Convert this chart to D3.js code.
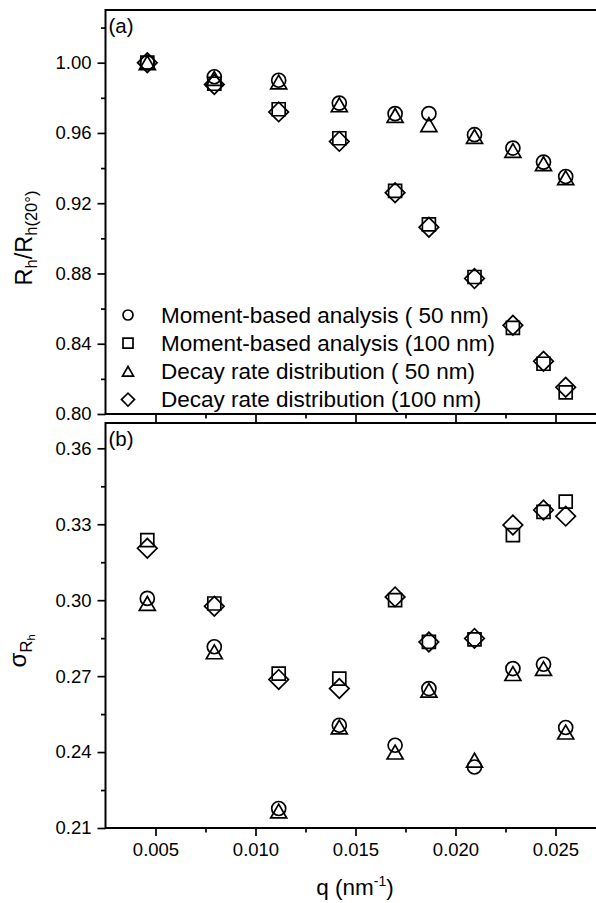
<!DOCTYPE html>
<html>
<head>
<meta charset="utf-8">
<script src="https://cdn.jsdelivr.net/npm/d3@7/dist/d3.min.js"></script>
<style>
    body { margin: 0; background: #fff; }
    svg { display: block; font-family: "Liberation Sans", Arial, sans-serif; }
    .axis text { font-size: 18.5px; fill: #000; }
    .axis line { stroke: #000; stroke-width: 1.7px; }
    .axis .domain { display: none; }
    .mark { fill: none; stroke: #000; stroke-width: 1.7px; }
</style>
</head>
<body>
<div id="chart"></div>
<script>
//Datos
const q = [0.00459, 0.00794, 0.01116, 0.01419, 0.01698, 0.01867, 0.02095, 0.02287, 0.0244, 0.02551];

//Panel (a): Rh / Rh(20º)
const rhMoment50  = [1.000, 0.992, 0.990, 0.977, 0.971, 0.971, 0.959, 0.9514, 0.9434, 0.9352];
const rhMoment100 = [1.000, 0.988, 0.9735, 0.957, 0.927, 0.908, 0.878, 0.849, 0.8286, 0.8123];
const rhDecay50   = [1.000, 0.991, 0.989, 0.976, 0.970, 0.9647, 0.958, 0.950, 0.9425, 0.9345];
const rhDecay100  = [1.000, 0.9876, 0.972, 0.9552, 0.926, 0.9063, 0.8771, 0.8505, 0.830, 0.8152];

//Panel (b): sigma Rh
const sdMoment50  = [0.3007, 0.2816, 0.2177, 0.2506, 0.2427, 0.2651, 0.2341, 0.273, 0.2747, 0.2497];
const sdMoment100 = [0.3237, 0.2987, 0.271, 0.269, 0.300, 0.2835, 0.2845, 0.3257, 0.3349, 0.3389];
const sdDecay50   = [0.2987, 0.2796, 0.2167, 0.2499, 0.240, 0.2644, 0.2368, 0.271, 0.273, 0.2479];
const sdDecay100  = [0.3205, 0.2976, 0.2687, 0.2651, 0.3013, 0.2835, 0.2849, 0.3297, 0.3356, 0.3332];

const legendLabels = ['Moment-based analysis ( 50 nm)', 'Moment-based analysis (100 nm)', 'Decay rate distribution ( 50 nm)', 'Decay rate distribution (100 nm)'];

//Ticks
const xTicks = [0.005, 0.010, 0.015, 0.020, 0.025];
const xMinor = [0.0075, 0.0125, 0.0175, 0.0225];
const aTicks = [0.80, 0.84, 0.88, 0.92, 0.96, 1.00];
const aMinor = [0.82, 0.86, 0.90, 0.94, 0.98, 1.02];
const bTicks = [0.21, 0.24, 0.27, 0.30, 0.33, 0.36];
const bMinor = [0.225, 0.255, 0.285, 0.315, 0.345];

let width = 596, height = 903;
let left = 105.5, right = 595.5;

let svg = d3.select('#chart')
    .append('svg')
    .attr('width', width)
    .attr('height', height);

let x = d3.scaleLinear()
    .domain([0.0025, 0.027])
    .range([left, right]);

let yA = d3.scaleLinear().domain([0.80, 1.03]).range([414, 10]);
let yB = d3.scaleLinear().domain([0.21, 0.37]).range([828, 423]);

//Simbolos (circulo, cuadrado, triangulo, rombo)
let shapes = [
    { type: d3.symbolCircle, size: Math.PI * 7 * 7, rot: 0, dy: 0 },
    { type: d3.symbolSquare, size: 13 * 13, rot: 0, dy: 0 },
    { type: d3.symbolTriangle, size: Math.sqrt(3) / 4 * 16 * 16, rot: 0, dy: 2.3 },
    { type: d3.symbolSquare, size: 13.8 * 13.8, rot: 45, dy: 0 }
];
let legendShapes = [
    { type: d3.symbolCircle, size: Math.PI * 5 * 5, rot: 0, dy: 0 },
    { type: d3.symbolSquare, size: 10 * 10, rot: 0, dy: 0 },
    { type: d3.symbolTriangle, size: Math.sqrt(3) / 4 * 11 * 11, rot: 0, dy: 1.5 },
    { type: d3.symbolSquare, size: 9.2 * 9.2, rot: 45, dy: 0 }
];

function drawPanel(y, series, ticks, minor, top, bottom, showLabels, tag) {
    let g = svg.append('g');

    //Eje Y
    g.append('g')
        .attr('class', 'axis')
        .attr('transform', 'translate(' + left + ',0)')
        .call(d3.axisLeft(y).tickValues(ticks).tickSize(8).tickPadding(6).tickFormat(d3.format('.2f')));
    g.append('g')
        .attr('class', 'axis')
        .attr('transform', 'translate(' + left + ',0)')
        .call(d3.axisLeft(y).tickValues(minor).tickSize(4.5).tickFormat(''));

    //Eje X
    g.append('g')
        .attr('class', 'axis')
        .attr('transform', 'translate(0,' + bottom + ')')
        .call(d3.axisBottom(x).tickValues(xTicks).tickSize(8).tickPadding(7).tickFormat(showLabels ? d3.format('.3f') : ''));
    g.append('g')
        .attr('class', 'axis')
        .attr('transform', 'translate(0,' + bottom + ')')
        .call(d3.axisBottom(x).tickValues(xMinor).tickSize(4.5).tickFormat(''));

    //Marco
    g.append('rect')
        .attr('x', left)
        .attr('y', top)
        .attr('width', 600 - left)
        .attr('height', bottom - top)
        .attr('fill', 'none')
        .attr('stroke', '#000')
        .attr('stroke-width', 2);

    g.append('text')
        .attr('x', left + 3)
        .attr('y', top + 23)
        .attr('font-size', '20.5px')
        .text(tag);

    //Puntos (orden: cuadrado, rombo, circulo, triangulo)
    [1, 3, 0, 2].forEach(function(i) {
        let s = shapes[i];
        g.append('g')
            .selectAll('path')
            .data(series[i])
            .enter()
            .append('path')
            .attr('class', 'mark')
            .attr('d', d3.symbol().type(s.type).size(s.size))
            .attr('transform', function(d, j) {
                return 'translate(' + x(q[j]) + ',' + (y(d) + s.dy) + ') rotate(' + s.rot + ')';
            });
    });
    return g;
}

let gA = drawPanel(yA, [rhMoment50, rhMoment100, rhDecay50, rhDecay100], aTicks, aMinor, 10, 414, false, '(a)');
drawPanel(yB, [sdMoment50, sdMoment100, sdDecay50, sdDecay100], bTicks, bMinor, 423, 828, true, '(b)');

//Leyenda
let legend = gA.append('g').attr('transform', 'translate(128,315)');
legendLabels.forEach(function(label, i) {
    let s = legendShapes[i];
    let row = legend.append('g').attr('transform', 'translate(0,' + (i * 28.2) + ')');
    row.append('path')
        .attr('class', 'mark')
        .attr('d', d3.symbol().type(s.type).size(s.size))
        .attr('transform', 'translate(0,' + s.dy + ') rotate(' + s.rot + ')');
    row.append('text')
        .attr('x', 33)
        .attr('y', 7.8)
        .attr('font-size', '22.5px')
        .text(label);
});

//Titulos de ejes
let titleA = svg.append('text')
    .attr('transform', 'translate(32,238) rotate(-90)')
    .attr('text-anchor', 'middle')
    .attr('font-size', '23.5px');
titleA.append('tspan').text('R');
titleA.append('tspan').attr('font-size', '16.5px').attr('dy', 5).text('h');
titleA.append('tspan').attr('dy', -5).text('/R');
titleA.append('tspan').attr('font-size', '16.5px').attr('dy', 5).text('h(20°)');

let titleB = svg.append('text')
    .attr('transform', 'translate(26,651) rotate(-90)')
    .attr('text-anchor', 'middle')
    .attr('font-size', '24px');
titleB.append('tspan').text('σ');
titleB.append('tspan').attr('font-size', '17px').attr('dy', 6).text('R');
titleB.append('tspan').attr('font-size', '11px').attr('dy', 3).text('h');

let titleX = svg.append('text')
    .attr('x', 355)
    .attr('y', 895)
    .attr('text-anchor', 'middle')
    .attr('font-size', '22.5px');
titleX.append('tspan').text('q (nm');
titleX.append('tspan').attr('font-size', '14px').attr('dy', -9).text('-1');
titleX.append('tspan').attr('dy', 9).text(')');
</script>
</body>
</html>
